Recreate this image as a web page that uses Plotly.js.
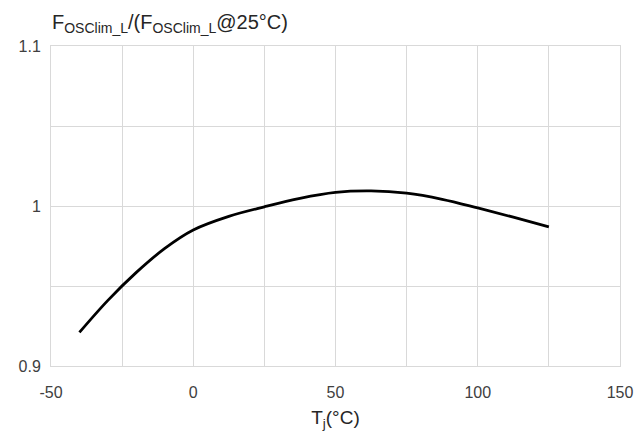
<!DOCTYPE html>
<html>
<head>
<meta charset="utf-8">
<script src="https://cdn.plot.ly/plotly-3.0.1.min.js"></script>
<style>html,body{margin:0;padding:0;background:#fff;}#chart{width:635px;height:439px;}</style>
</head>
<body>
<div id="chart"></div>
<script>
const tempC = [-40, -30, -20, -10, 0, 12.5, 25, 37.5, 50, 62.5, 75, 87.5, 100, 112.5, 125];
const ratio = [0.921, 0.941, 0.9585, 0.9735, 0.985, 0.9935, 0.9995, 1.0048, 1.0085, 1.0094, 1.008, 1.0042, 0.9988, 0.993, 0.987];
const xTickVals = [-50, 0, 50, 100, 150];
const xTickText = ['-50', '0', '50', '100', '150'];
const yTickVals = [0.9, 1.0, 1.1];
const yTickText = ['0.9', '1', '1.1'];

const font = 'Liberation Sans, Arial, sans-serif';
const trace = {
  x: tempC, y: ratio, type: 'scatter', mode: 'lines',
  line: {color: '#000000', width: 2.8, shape: 'spline', smoothing: 1},
  hoverinfo: 'skip'
};
const layout = {
  width: 635, height: 439,
  margin: {l: 51, r: 15, t: 46, b: 73},
  paper_bgcolor: '#ffffff', plot_bgcolor: '#ffffff',
  showlegend: false,
  font: {family: font, color: '#404040', size: 16},
  title: {
    text: 'F<sub>OSClim_L</sub>/(F<sub>OSClim_L</sub>@25°C)',
    font: {family: font, size: 20, color: '#262626'},
    xref: 'container', yref: 'container', x: 52/635, xanchor: 'left',
    y: 1 - 22/439, yanchor: 'middle'
  },
  xaxis: {
    range: [-50, 150], tickmode: 'array', tickvals: xTickVals, ticktext: xTickText,
    showgrid: true, gridcolor: '#d9d9d9', gridwidth: 1,
    minor: {dtick: 25, tick0: -50, showgrid: true, gridcolor: '#d9d9d9', gridwidth: 1, ticks: ''},
    showline: true, linecolor: '#d9d9d9', linewidth: 1, mirror: true,
    zeroline: false, ticks: '', ticklabelstandoff: 12,
    tickfont: {family: font, size: 16, color: '#404040'},
    title: {text: 'T<sub>j</sub>(°C)', font: {family: font, size: 19, color: '#262626'}, standoff: 10}
  },
  yaxis: {
    range: [0.9, 1.1], tickmode: 'array', tickvals: yTickVals, ticktext: yTickText,
    showgrid: true, gridcolor: '#d9d9d9', gridwidth: 1,
    minor: {dtick: 0.05, tick0: 0.9, showgrid: true, gridcolor: '#d9d9d9', gridwidth: 1, ticks: ''},
    showline: true, linecolor: '#d9d9d9', linewidth: 1, mirror: true,
    zeroline: false, ticks: '', ticklabelstandoff: 6,
    tickfont: {family: font, size: 16, color: '#404040'}
  }
};
Plotly.newPlot('chart', [trace], layout, {staticPlot: true, displayModeBar: false});
</script>
</body>
</html>
